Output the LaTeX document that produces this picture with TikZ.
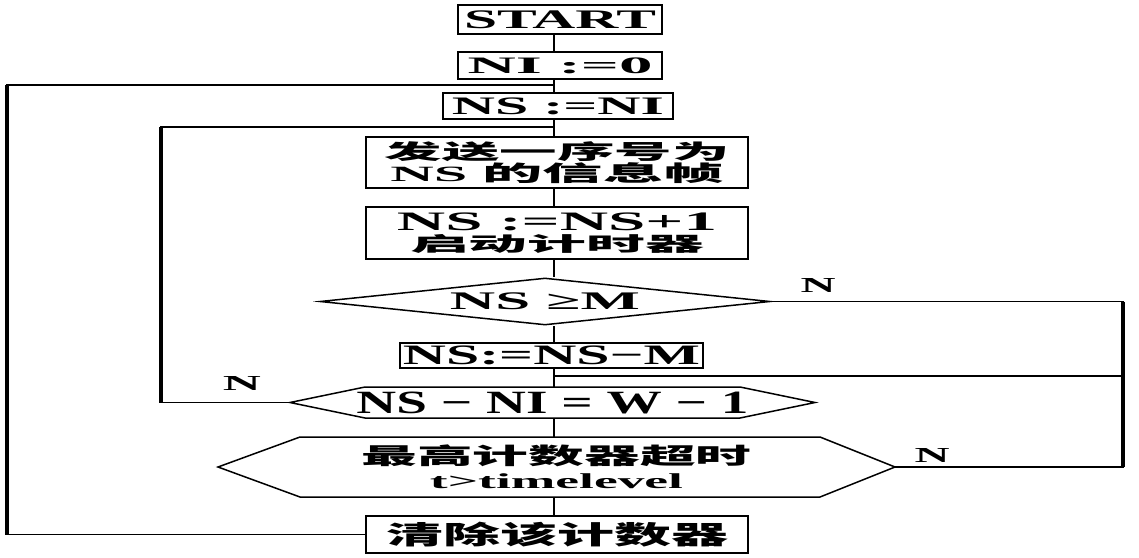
\documentclass[tikz,border=0pt]{standalone}
\usepackage{fontspec}
\setmainfont{Liberation Serif}
\newfontfamily\cjk{Noto Sans CJK SC}
\usepackage{graphicx}
\usetikzlibrary{shapes.geometric}
\newcommand\fitt[3]{\resizebox*{#1pt}{#2pt}{\bfseries #3}}
\renewcommand\arraystretch{0}
\begin{document}
\begin{tikzpicture}[x=1pt,y=-1pt,
  box/.style={draw, line width=2.8pt, rectangle, inner sep=0pt, align=center},
  hexa/.style={rectangle, inner sep=0pt, outer sep=0pt, align=center},
  line/.style={line width=1.5pt},
  vline/.style={line width=3.5pt},
  lbl/.style={inner sep=0pt}]
\useasboundingbox (0,0) rectangle (1139,557);
\coordinate (col) at (554,0);
\coordinate (rx) at (1123,0);
\coordinate (lx1) at (161,0);
\coordinate (lx2) at (7,0);
\coordinate (j1) at (554,376);
\coordinate (j2) at (554,127);
\coordinate (j3) at (554,85);

\node[box, minimum width=204pt, minimum height=29pt] (start) at (560,19.5) {\fitt{192}{18}{START}};
\node[box, minimum width=204pt, minimum height=27pt] (ni) at (560,65.5) {\fitt{185}{16}{NI :=0}};
\node[box, minimum width=230pt, minimum height=26pt] (nsni) at (558,106) {\fitt{212}{17}{NS :=NI}};
\node[box, minimum width=382pt, minimum height=51pt] (send) at (557,162.5)
  {\begin{tabular}{@{}c@{}}\fitt{345}{20}{\cjk 发送一序号为}\\[3pt]\fitt{333}{21}{NS \cjk 的信息帧}\end{tabular}};
\node[box, minimum width=382pt, minimum height=52pt] (inc) at (557,233)
  {\begin{tabular}{@{}c@{}}\fitt{320}{18}{NS :=NS+1}\\[4pt]\fitt{294}{19}{\cjk 启动计时器}\end{tabular}};
\node[diamond, draw, line width=1.5pt, minimum width=450pt, minimum height=47pt, inner sep=0pt, aspect=9.6] (dec) at (545,301.5) {\fitt{190}{17}{NS ≥M}};
\node[box, minimum width=303pt, minimum height=25pt] (sub) at (551.5,355.5) {\fitt{297}{19}{NS:=NS−M}};
\node[hexa, minimum width=525pt, minimum height=31pt] (h1) at (552.5,402.5) {\fitt{392}{22}{NS − NI = W − 1}};
\node[hexa, minimum width=677pt, minimum height=60pt] (h2) at (556.5,467)
  {\begin{tabular}{@{}c@{}}\fitt{390}{22}{\cjk 最高计数器超时}\\[9pt]\fitt{253}{15}{t>timelevel}\end{tabular}};
\node[box, minimum width=382pt, minimum height=37pt] (clr) at (557,534.5) {\fitt{342}{25}{\cjk 清除该计数器}};

\draw[line] (h1.west) -- ([xshift=75pt]h1.north west) -- ([xshift=-75pt]h1.north east) -- (h1.east)
  -- ([xshift=-75pt]h1.south east) -- ([xshift=75pt]h1.south west) -- cycle;
\draw[line] (h2.west) -- ([xshift=82pt]h2.north west) -- ([xshift=-75pt]h2.north east) -- (h2.east)
  -- ([xshift=-75pt]h2.south east) -- ([xshift=82pt]h2.south west) -- cycle;

\node[lbl] (n1) at (818,285) {\fitt{35}{14}{N}};
\node[lbl] (n2) at (242,383) {\fitt{38}{14}{N}};
\node[lbl] (n3) at (932,455) {\fitt{35}{14}{N}};

\draw[line] (start.south -| col) -- (ni.north -| col);
\draw[line] (ni.south -| col) -- (nsni.north -| col);
\draw[line] (nsni.south -| col) -- (send.north -| col);
\draw[line] (send.south -| col) -- (inc.north -| col);
\draw[line] (inc.south -| col) -- (dec.north -| col);
\draw[line] (dec.south -| col) -- (sub.north -| col);
\draw[line] (sub.south -| col) -- (h1.north -| col);
\draw[line] (h1.south -| col) -- (h2.north -| col);
\draw[line] (h2.south -| col) -- (clr.north -| col);

\draw[line] (dec.east) -- (dec.east -| rx) -- (h2.east -| rx) -- (h2.east);
\draw[vline] (dec.east -| rx) -- (h2.east -| rx);
\draw[line] (j1 -| rx) -- (j1);
\draw[line] (h1.west) -- (h1.west -| lx1) -- (j2 -| lx1) -- (j2);
\draw[vline] (h1.west -| lx1) -- (j2 -| lx1);
\draw[line] (clr.west) -- (clr.west -| lx2) -- (j3 -| lx2) -- (j3);
\draw[vline] (clr.west -| lx2) -- (j3 -| lx2);
\end{tikzpicture}
\end{document}
